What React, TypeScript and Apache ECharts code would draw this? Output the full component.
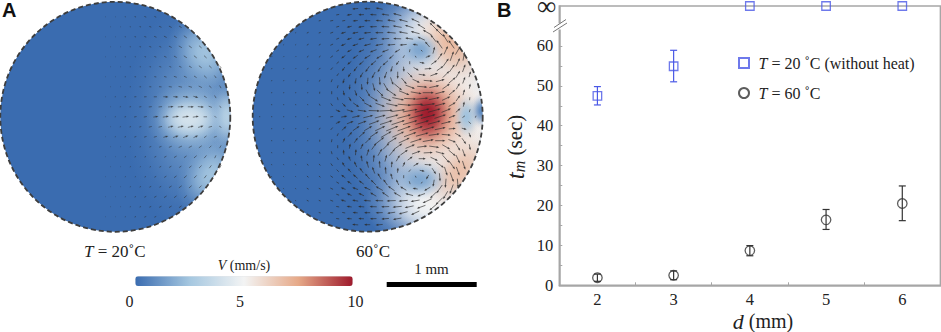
import React, { useEffect, useRef } from "react";
import * as echarts from "echarts";

// ---------- Panel B data ----------
const SERIF = "Liberation Serif";
const dValues = [2, 3, 4, 5, 6];
const INF = 70; // the broken top of the axis stands for infinity
const t20 = [47.5, 54.9, INF, INF, INF];
const t20Low = [45.2, 51, null, null, null];
const t20High = [49.8, 58.9, null, null, null];
const t60 = [1.9, 2.5, 8.7, 16.4, 20.5];
const t60Low = [1, 1.4, 7.4, 14, 16.2];
const t60High = [2.8, 3.6, 9.95, 19, 24.9];
const yLabels = [0, 10, 20, 30, 40, 50, 60, 70];
const yTicks = [0, 5, 10, 15, 20, 25, 30, 35, 40, 45, 50, 55, 60];
const xHalfTicks = [2.5, 3.5, 4.5, 5.5];

// ---------- Panel A colour scale ----------
const rampColors = ["#3a6cb0", "#a5c7e0", "#f3f4f4", "#e6a988", "#9e1a2c"];
const rampTicks = ["0", "5", "10"];

// ---------- Panel A field blobs: x, y, rx, ry, V, tilt ----------
const blobs20 = [
  [80, 0, 70, 118, 1.3, 0],
  [90, -64, 36, 44, 2.4, 0.5],
  [96, 58, 32, 44, 2.4, -0.5],
  [76, 2, 46, 38, 2.9, 0],
  [74, 2, 32, 22, 4, 0],
  [112, 0, 18, 38, 3, 0],
];
const blobs60 = [
  [92, 0, 116, 165, 5, 0],
  [84, 0, 96, 134, 5, 0],
  [70, -85, 66, 48, 5, 0],
  [62, 88, 66, 44, 5, 0],
  [84, -72, 32, 48, 6.9, 0.7],
  [92, 55, 28, 48, 6.7, -0.7],
  [60, -1, 66, 64, 7, 0],
  [60, -3, 42, 46, 8, 0],
  [60, -3, 25, 33, 10, 0],
  [52, -67, 24, 20, 1.6, 0],
  [52, 63, 30, 20, 1.6, 0],
  [99, 0, 14, 24, 2.4, 0],
  [114, -6, 12, 18, 0.8, 0],
];

// ---------- Panel A velocity vectors ----------
const grid20Cols = [-10, 0, 10, 20, 30, 40, 50, 60, 70, 80, 90, 100];
const grid20Rows = [-100, -90, -80, -70, -60, -50, -40, -30, -20, -10, 0, 10, 20, 30, 40, 50, 60, 70, 80, 90, 100];
const angle20 = [
  [5, 8, 12, 16, 20, 24, 0, 0, 0, 0, 0, 0],
  [5, 8, 12, 15, 18, 22, 26, 30, 0, 0, 0, 0],
  [5, 8, 10, 14, 18, 22, 26, 30, 35, 0, 0, 0],
  [3, 6, 10, 14, 18, 22, 26, 30, 35, 40, 0, 0],
  [0, 5, 8, 12, 16, 20, 24, 28, 32, 38, 42, 0],
  [-5, 0, 5, 8, 12, 16, 20, 24, 30, 36, 42, 50],
  [-8, -5, 0, 5, 8, 10, 14, 18, 24, 32, 42, 55],
  [-10, -8, -5, 0, 3, 5, 8, 12, 16, 25, 40, 60],
  [-12, -10, -8, -5, -3, 0, 2, 5, 8, 15, 30, 60],
  [-15, -12, -10, -8, -6, -5, -4, -3, 0, 5, 20, 55],
  [-18, -15, -12, -10, -10, -8, -8, -8, -8, -8, 0, 45],
  [-20, -18, -15, -14, -12, -12, -12, -12, -14, -16, -15, 30],
  [-22, -20, -18, -18, -16, -16, -16, -18, -20, -25, -35, -20],
  [-24, -22, -22, -20, -20, -20, -22, -24, -28, -35, -45, -60],
  [-25, -25, -24, -24, -24, -25, -27, -30, -35, -40, -50, -65],
  [-25, -25, -25, -25, -26, -28, -30, -34, -38, -44, -52, -60],
  [-25, -25, -25, -26, -27, -28, -32, -36, -40, -46, -52, 0],
  [-22, -22, -24, -25, -26, -28, -32, -36, -40, -45, 0, 0],
  [-20, -20, -22, -24, -26, -28, -32, -36, -40, 0, 0, 0],
  [-18, -18, -20, -22, -24, -26, -30, -34, 0, 0, 0, 0],
  [-15, -15, -18, -20, -22, -24, 0, 0, 0, 0, 0, 0],
];
const length20 = [
  [0.5, 0.5, 1, 1.5, 2, 2, 0, 0, 0, 0, 0, 0],
  [0.5, 0.5, 1, 1.5, 2, 2.5, 3, 3, 0, 0, 0, 0],
  [0.5, 0.5, 1, 1.5, 2, 2.5, 3, 3, 3.5, 0, 0, 0],
  [0.5, 0.5, 1, 1.5, 2, 2, 3, 3.5, 3.5, 3.5, 0, 0],
  [0.5, 0.5, 1, 1, 1.5, 2, 2.5, 3, 3.5, 3.5, 3.5, 0],
  [0.5, 0.5, 1, 1, 1.5, 2, 2, 2.5, 3, 3.5, 3.5, 3.5],
  [0.5, 0.5, 1, 1.5, 1.5, 2, 2.5, 3, 3, 3, 3.5, 3],
  [0.5, 0.5, 1, 1.5, 2, 2.5, 3, 3.5, 3.5, 3.5, 3, 3],
  [0.5, 1, 1.5, 2, 2.5, 3, 4, 4, 4.5, 4, 3, 3],
  [0.5, 1, 1.5, 2, 3, 3.5, 4.5, 5, 5, 5, 3.5, 2.5],
  [0.5, 1, 1.5, 2.5, 3, 4, 5, 5.5, 5.5, 5, 3.5, 2.5],
  [0.5, 1, 1.5, 2, 3, 3.5, 4.5, 5, 5, 4.5, 3.5, 2.5],
  [0.5, 1, 1.5, 2, 2.5, 3, 4, 4.5, 4.5, 4, 3, 3],
  [0.5, 0.5, 1, 1.5, 2, 2.5, 3, 3.5, 3.5, 3.5, 3, 3],
  [0.5, 0.5, 1, 1.5, 1.5, 2, 2.5, 3, 3, 3.5, 3.5, 3],
  [0.5, 0.5, 1, 1, 1.5, 2, 2.5, 2.5, 3, 3.5, 3.5, 3.5],
  [0.5, 0.5, 1, 1, 1.5, 2, 2.5, 3, 3.5, 3.5, 3.5, 0],
  [0.5, 0.5, 1, 1.5, 2, 2, 3, 3.5, 3.5, 3.5, 0, 0],
  [0.5, 0.5, 1, 1.5, 2, 2.5, 3, 3, 3.5, 0, 0, 0],
  [0.5, 0.5, 1, 1.5, 2, 2.5, 3, 3, 0, 0, 0, 0],
  [0.5, 0.5, 1, 1.5, 2, 2, 0, 0, 0, 0, 0, 0],
];

const grid60Cols = [-108, -96, -84, -72, -60, -48, -36, -24, -12, 0, 12, 24, 36, 48, 60, 72, 84, 96, 108];
const grid60Rows = [-108, -96, -84, -72, -60, -48, -36, -24, -12, 0, 12, 24, 36, 48, 60, 72, 84, 96, 108];
const angle60 = [
  [0, 0, 0, 0, 0, 0, 0, 0, 175, 180, 190, 0, 0, 0, 0, 0, 0, 0, 0],
  [0, 0, 0, 0, 0, 165, 170, 170, 175, 180, 185, 190, 195, 205, 0, 0, 0, 0, 0],
  [0, 0, 0, 150, 155, 160, 160, 165, 170, 175, 180, 185, 190, 195, 210, 225, 0, 0, 0],
  [0, 0, 140, 145, 150, 150, 155, 155, 160, 165, 170, 175, 175, 190, 230, 235, 235, 0, 0],
  [0, 125, 130, 135, 140, 140, 145, 145, 145, 150, 150, 140, 120, 60, -20, -55, -70, -80, 0],
  [0, 115, 120, 125, 125, 130, 130, 125, 125, 125, 120, 105, 85, 30, -5, -35, -55, -70, 0],
  [0, 105, 110, 110, 115, 115, 110, 105, 100, 95, 85, 70, 50, 25, 5, -15, -40, -70, 0],
  [0, 95, 100, 100, 100, 95, 90, 80, 70, 60, 45, 35, 22, 10, 0, -15, -40, -75, 0],
  [0, 85, 85, 80, 75, 65, 55, 45, 35, 28, 20, 12, 5, -3, -8, -15, -30, -80, 0],
  [0, 0, 0, 0, -3, -5, -8, -10, -12, -14, -15, -15, -15, -15, -15, -18, -22, -35, -70],
  [0, -85, -85, -80, -70, -60, -50, -42, -35, -30, -25, -22, -20, -18, -16, -12, -5, 15, 0],
  [0, -95, -100, -100, -95, -90, -80, -65, -55, -45, -38, -32, -25, -18, -10, 0, 20, 55, 0],
  [0, -105, -110, -110, -115, -110, -105, -95, -85, -72, -60, -50, -35, -20, -3, 15, 40, 70, 0],
  [0, -115, -120, -125, -125, -130, -125, -120, -115, -105, -95, -85, -65, -30, 5, 35, 55, 72, 0],
  [0, -125, -130, -135, -140, -140, -145, -145, -140, -130, -120, -105, -90, -115, 120, 85, 70, 60, 0],
  [0, 0, -140, -145, -150, -155, -155, -160, -160, -155, -150, -145, -150, -170, 150, 125, 110, 0, 0],
  [0, 0, 0, -150, -155, -160, -160, -165, -170, -175, -178, 178, 175, 170, 155, 135, 0, 0, 0],
  [0, 0, 0, 0, 0, -165, -170, -170, -175, 180, 178, 172, 165, 155, 0, 0, 0, 0, 0],
  [0, 0, 0, 0, 0, 0, 0, 0, -175, 180, 175, 0, 0, 0, 0, 0, 0, 0, 0],
];
const length60 = [
  [0, 0, 0, 0, 0, 0, 0, 0, 5, 5, 6, 0, 0, 0, 0, 0, 0, 0, 0],
  [0, 0, 0, 0, 0, 2, 3, 3, 4, 5, 6, 7, 8, 8, 0, 0, 0, 0, 0],
  [0, 0, 0, 1, 2, 2, 3, 4, 5, 6, 7, 8, 8, 8, 9, 9, 0, 0, 0],
  [0, 0, 1, 1, 2, 2, 3, 4, 5, 6, 7, 7, 6, 4, 6, 9, 9, 0, 0],
  [0, 1, 1, 1, 2, 2, 3, 4, 5, 6, 6, 5, 3, 2, 4, 7, 9, 8, 0],
  [0, 1, 1, 1, 2, 2, 3, 4, 5, 6, 6, 5, 4, 5, 6, 7, 8, 7, 0],
  [0, 1, 1, 1, 1, 2, 3, 4, 5, 6, 7, 7, 7, 7, 8, 8, 8, 6, 0],
  [0, 1, 1, 1, 1, 2, 3, 4, 5, 7, 8, 9, 10, 10, 10, 9, 7, 5, 0],
  [0, 1, 1, 1, 1, 2, 3, 4, 6, 8, 9, 11, 12, 13, 13, 10, 7, 4, 0],
  [1, 1, 1, 1, 1, 2, 3, 5, 7, 9, 10, 12, 13, 14, 14, 11, 6, 3, 2],
  [0, 1, 1, 1, 1, 2, 3, 5, 7, 8, 10, 12, 13, 13, 12, 10, 6, 4, 0],
  [0, 1, 1, 1, 1, 2, 3, 4, 5, 7, 9, 10, 11, 11, 10, 9, 7, 6, 0],
  [0, 1, 1, 1, 1, 2, 3, 4, 5, 6, 7, 8, 8, 8, 8, 8, 8, 7, 0],
  [0, 1, 1, 1, 2, 2, 3, 4, 5, 6, 6, 5, 4, 5, 6, 8, 9, 8, 0],
  [0, 1, 1, 1, 2, 2, 3, 4, 5, 6, 6, 5, 3, 2, 4, 7, 9, 0, 0],
  [0, 0, 1, 1, 2, 2, 3, 4, 5, 6, 7, 7, 6, 4, 6, 9, 9, 0, 0],
  [0, 0, 0, 1, 2, 2, 3, 4, 5, 6, 7, 8, 8, 8, 9, 9, 0, 0, 0],
  [0, 0, 0, 0, 0, 2, 3, 3, 4, 5, 6, 7, 8, 8, 0, 0, 0, 0, 0],
  [0, 0, 0, 0, 0, 0, 0, 0, 5, 5, 6, 0, 0, 0, 0, 0, 0, 0, 0],
];

// second, staggered set of vectors in the fast part of the 60 degree disc
const inter60Cols = [-30, -18, -6, 6, 18, 30, 42, 54, 66, 78, 90, 102];
const inter60Rows = [-102, -90, -78, -66, -54, -42, -30, -18, -6, 6, 18, 30, 42, 54, 66, 78, 90, 102];
const interAngle60 = [
  [170, 172, 178, 183, 188, 195, 0, 0, 0, 0, 0, 0],
  [165, 168, 173, 178, 183, 190, 198, 212, 225, 0, 0, 0],
  [158, 162, 167, 172, 177, 182, 188, 205, 232, 238, 0, 0],
  [150, 153, 157, 160, 160, 150, 100, 40, -75, -65, -60, 0],
  [140, 142, 140, 140, 140, 125, 90, 10, -35, -55, -65, 0],
  [125, 122, 120, 118, 110, 90, 45, 8, -20, -45, -60, -75],
  [105, 95, 85, 75, 60, 40, 20, 5, -12, -35, -60, -80],
  [75, 60, 45, 32, 22, 12, 3, -5, -12, -25, -55, -85],
  [25, 18, 8, 2, -3, -8, -10, -13, -15, -22, -40, -75],
  [-25, -22, -20, -20, -18, -18, -16, -16, -15, -14, -10, 40],
  [-65, -50, -42, -35, -30, -25, -20, -15, -8, 5, 30, 70],
  [-90, -80, -65, -55, -45, -35, -22, -8, 8, 30, 58, 80],
  [-120, -110, -100, -85, -75, -60, -35, 0, 25, 48, 65, 0],
  [-135, -130, -125, -110, -95, -85, -50, 12, 57, 72, 70, 0],
  [-150, -148, -145, -135, -125, -115, -107, 146, 100, 95, 85, 0],
  [-160, -158, -155, -150, -145, -150, -165, 160, 135, 120, 0, 0],
  [-170, -172, -175, -178, 178, 175, 168, 160, 140, 0, 0, 0],
  [-172, -176, -178, 178, 175, 170, 0, 0, 0, 0, 0, 0],
];
const interLength60 = [
  [3, 4, 4.5, 5.5, 6.5, 7.5, 0, 0, 0, 0, 0, 0],
  [3, 4, 5, 6, 7, 8, 8, 8, 9, 0, 0, 0],
  [3, 4, 5, 6, 7, 7, 7, 7, 8, 9, 0, 0],
  [3, 4, 5, 6, 6, 5, 3, 2, 6, 8, 9, 0],
  [3, 4, 5, 6, 6, 4, 3, 4, 6, 8, 8, 0],
  [3, 4, 5, 6, 6, 6, 6, 6, 7, 8, 7, 5],
  [3, 4, 5, 7, 8, 9, 9, 9, 9, 8, 6, 4],
  [3, 4, 6, 8, 10, 11, 11, 11, 10, 8, 6, 3],
  [4, 6, 8, 10, 12, 13, 14, 14, 12, 9, 5, 3],
  [4, 6, 8, 10, 12, 13, 14, 13, 12, 9, 5, 3],
  [3, 5, 7, 9, 11, 12, 12, 12, 10, 8, 6, 4],
  [3, 4, 5, 7, 8, 9, 9, 9, 9, 8, 7, 5],
  [3, 4, 5, 6, 6, 6, 5, 6, 7, 9, 8, 0],
  [3, 4, 5, 6, 6, 4, 3, 4, 6, 8, 8, 0],
  [3, 4, 5, 6, 6, 5, 3, 2, 6, 8, 8, 0],
  [3, 4, 5, 6, 7, 7, 7, 7, 8, 8, 0, 0],
  [3, 4, 5, 6, 7, 8, 8, 8, 9, 0, 0, 0],
  [3, 4, 4.5, 5.5, 6.5, 7.5, 0, 0, 0, 0, 0, 0],
];

// ---------- helpers that turn the tables into rows for the library ----------
const vectorRows = (cols: number[], rows: number[], angle: number[][], len: number[][], stagger = 0) => {
  const out: number[][] = [];
  rows.forEach((y, j) =>
    cols.forEach((x, i) => {
      if (len[j][i] > 0) out.push([x + (j % 2 ? stagger : 0), y, angle[j][i], len[j][i]]);
    })
  );
  return out;
};

const rangeRows = (low: (number | null)[], high: (number | null)[]) =>
  dValues.map((d, i) => [d, low[i], high[i]]).filter((r) => r[1] !== null);

const renderBlob = (_p: any, api: any) => {
  const c = api.coord([api.value(0), api.value(1)]);
  const o = api.coord([0, 0]);
  const s = api.size([1, 1]);
  const col = api.visual("color");
  const a = (v: number) => echarts.color.modifyAlpha(col, v);
  return {
    type: "group",
    clipPath: { type: "circle", shape: { cx: o[0], cy: o[1], r: 115 * s[0] } },
    children: [
      {
        type: "circle",
        x: c[0],
        y: c[1],
        scaleX: api.value(2) * s[0],
        scaleY: api.value(3) * s[1],
        rotation: api.value(5),
        shape: { cx: 0, cy: 0, r: 1 },
        style: {
          fill: {
            type: "radial",
            x: 0.5,
            y: 0.5,
            r: 0.5,
            colorStops: [
              { offset: 0, color: a(1) },
              { offset: 0.2, color: a(0.92) },
              { offset: 0.4, color: a(0.68) },
              { offset: 0.6, color: a(0.36) },
              { offset: 0.8, color: a(0.11) },
              { offset: 1, color: a(0) },
            ],
          },
        },
      },
    ],
  };
};

const renderVector = (opacity: number) => (_p: any, api: any) => {
  const c = api.coord([api.value(0), api.value(1)]);
  const th = (api.value(2) * Math.PI) / 180;
  const l = api.value(3);
  const ux = Math.cos(th);
  const uy = Math.sin(th);
  const tip = [c[0] + (ux * l) / 2, c[1] + (uy * l) / 2];
  const tail = [c[0] - (ux * l) / 2, c[1] - (uy * l) / 2];
  const children: any[] = [
    {
      type: "line",
      shape: { x1: tail[0], y1: tail[1], x2: tip[0], y2: tip[1] },
      style: { stroke: "#2b2b2b", lineWidth: 0.9, opacity },
    },
  ];
  if (l >= 4) {
    children.push({
      type: "polygon",
      shape: {
        points: [
          [tip[0] + ux * 1.2, tip[1] + uy * 1.2],
          [tip[0] - ux * 1.6 - uy * 1.1, tip[1] - uy * 1.6 + ux * 1.1],
          [tip[0] - ux * 1.6 + uy * 1.1, tip[1] - uy * 1.6 - ux * 1.1],
        ],
      },
      style: { fill: "#2b2b2b", opacity },
    });
  }
  return { type: "group", children };
};

const renderRange = (color: string) => (_p: any, api: any) => {
  const x = api.value(0);
  const lo = api.coord([x, api.value(1)]);
  const hi = api.coord([x, api.value(2)]);
  const st = { stroke: color, lineWidth: 1.2 };
  return {
    type: "group",
    children: [
      { type: "line", shape: { x1: lo[0], y1: lo[1], x2: hi[0], y2: hi[1] }, style: st },
      { type: "line", shape: { x1: lo[0] - 3.5, y1: lo[1], x2: lo[0] + 3.5, y2: lo[1] }, style: st },
      { type: "line", shape: { x1: hi[0] - 3.5, y1: hi[1], x2: hi[0] + 3.5, y2: hi[1] }, style: st },
    ],
  };
};

const BLUE = "#4a58e6";
const DARK = "#333333";
const AXIS = "#a6a6a6";
const INK = "#222222";
const NAME20 = "T = 20 °C (without heat)";
const NAME60 = "T = 60 °C";

const serifText = (x: number, y: number, text: string, size: number, extra: any = {}) => ({
  type: "text",
  x,
  y,
  z: 20,
  style: {
    text,
    fill: INK,
    font: `${size}px "${SERIF}"`,
    textAlign: "center",
    textVerticalAlign: "middle",
    ...extra,
  },
});

const hiddenAxis = (gridIndex: number, inverse = false) => ({
  type: "value",
  gridIndex,
  min: -115,
  max: 115,
  show: false,
  inverse,
  splitLine: { show: false },
});

const option: any = {
  animation: false,
  backgroundColor: "#ffffff",
  tooltip: { show: false },
  grid: [
    { left: 559.3, top: 6, right: 0.6, height: 279.3, show: true, borderColor: AXIS, borderWidth: 1.5, backgroundColor: "transparent", outerBoundsMode: "none" },
    { left: 0.3, top: 1.8, width: 230, height: 230, outerBoundsMode: "none" },
    { left: 252.7, top: 1.7, width: 230, height: 230, outerBoundsMode: "none" },
  ],
  xAxis: [
    {
      type: "value",
      gridIndex: 0,
      min: 1.5,
      max: 6.5,
      interval: 0.5,
      splitLine: { show: false },
      axisLine: { lineStyle: { color: AXIS, width: 1.5 } },
      axisTick: { inside: true, length: 3, customValues: xHalfTicks, lineStyle: { color: AXIS } },
      axisLabel: { customValues: dValues, margin: 6, color: INK, fontFamily: SERIF, fontSize: 16.5 },
    },
    hiddenAxis(1),
    hiddenAxis(2),
  ],
  yAxis: [
    {
      type: "value",
      gridIndex: 0,
      min: 0,
      max: INF,
      interval: 10,
      splitLine: { show: false },
      axisLine: { lineStyle: { color: AXIS, width: 1.5 } },
      axisTick: { inside: true, length: 3, customValues: yTicks, lineStyle: { color: AXIS } },
      axisLabel: {
        customValues: yLabels,
        margin: 6,
        color: INK,
        fontFamily: SERIF,
        fontSize: 16.5,
        formatter: (v: number) => (v === INF ? "{inf|∞}" : String(v)),
        rich: { inf: { fontFamily: SERIF, fontSize: 27, lineHeight: 12, color: INK, padding: [0, -3, 0, 0] } },
      },
    },
    hiddenAxis(1, true),
    hiddenAxis(2, true),
  ],
  visualMap: {
    type: "continuous",
    min: 0,
    max: 10,
    dimension: 4,
    seriesIndex: [4, 6],
    orient: "horizontal",
    left: 135.3,
    top: 276.3,
    itemWidth: 9.7,
    itemHeight: 217.4,
    text: null,
    showLabel: false,
    calculable: false,
    hoverLink: false,
    align: "auto",
    padding: 0,
    inRange: { color: rampColors },
    textStyle: { color: "transparent", fontSize: 1 },
  },
  legend: {
    left: 738,
    top: 55,
    orient: "vertical",
    itemWidth: 10,
    itemHeight: 10,
    itemGap: 14,
    padding: 0,
    selectedMode: false,
    data: [NAME20, NAME60],
    formatter: (n: string) =>
      n === NAME20 ? "{i|T} = 20 ˚C (without heat)" : "{i|T} = 60 ˚C",
    textStyle: {
      color: INK,
      fontFamily: SERIF,
      fontSize: 16,
      padding: [0, 0, 0, 4.5],
      rich: {
        i: { fontFamily: SERIF, fontSize: 16, fontStyle: "italic", color: INK },
      },
    },
  },
  series: [
    {
      type: "custom",
      xAxisIndex: 0,
      yAxisIndex: 0,
      clip: false,
      silent: true,
      renderItem: renderRange(BLUE),
      encode: { x: 0, y: [1, 2] },
      data: rangeRows(t20Low, t20High),
    },
    {
      type: "custom",
      xAxisIndex: 0,
      yAxisIndex: 0,
      clip: false,
      silent: true,
      renderItem: renderRange(DARK),
      encode: { x: 0, y: [1, 2] },
      data: rangeRows(t60Low, t60High),
    },
    {
      name: NAME20,
      type: "scatter",
      xAxisIndex: 0,
      yAxisIndex: 0,
      clip: false,
      symbol: "rect",
      symbolSize: 8.5,
      itemStyle: { color: "rgba(255,255,255,0)", borderColor: BLUE, borderWidth: 1.3 },
      data: dValues.map((d, i) => [d, t20[i]]),
    },
    {
      name: NAME60,
      type: "scatter",
      xAxisIndex: 0,
      yAxisIndex: 0,
      clip: false,
      symbol: "circle",
      symbolSize: 9.5,
      itemStyle: { color: "rgba(255,255,255,0)", borderColor: DARK, borderWidth: 1.3 },
      data: dValues.map((d, i) => [d, t60[i]]),
    },
    {
      type: "custom",
      xAxisIndex: 1,
      yAxisIndex: 1,
      silent: true,
      clip: false,
      renderItem: renderBlob,
      encode: { x: 0, y: 1 },
      data: blobs20,
    },
    {
      type: "custom",
      xAxisIndex: 1,
      yAxisIndex: 1,
      silent: true,
      clip: false,
      z: 3,
      renderItem: renderVector(0.6),
      encode: { x: 0, y: 1 },
      data: vectorRows(grid20Cols, grid20Rows, angle20, length20, 5),
    },
    {
      type: "custom",
      xAxisIndex: 2,
      yAxisIndex: 2,
      silent: true,
      clip: false,
      renderItem: renderBlob,
      encode: { x: 0, y: 1 },
      data: blobs60,
    },
    {
      type: "custom",
      xAxisIndex: 2,
      yAxisIndex: 2,
      silent: true,
      clip: false,
      z: 3,
      renderItem: renderVector(0.72),
      encode: { x: 0, y: 1 },
      data: vectorRows(grid60Cols, grid60Rows, angle60, length60).concat(
        vectorRows(inter60Cols, inter60Rows, interAngle60, interLength60)
      ),
    },
  ],
  graphic: [
    { type: "circle", z: 0, shape: { cx: 115.3, cy: 116.8, r: 115 }, style: { fill: rampColors[0] } },
    { type: "circle", z: 0, shape: { cx: 367.7, cy: 116.7, r: 115 }, style: { fill: rampColors[0] } },
    { type: "circle", z: 10, shape: { cx: 115.3, cy: 116.8, r: 115 }, style: { fill: "none", stroke: "#3d3d3d", lineWidth: 1.8, lineDash: [5, 3] } },
    { type: "circle", z: 10, shape: { cx: 367.7, cy: 116.7, r: 115 }, style: { fill: "none", stroke: "#3d3d3d", lineWidth: 1.8, lineDash: [5, 3] } },
    // panel letters
    { type: "text", x: 2, y: 10, z: 20, style: { text: "A", fill: "#111", font: 'bold 20px "Liberation Sans"', textVerticalAlign: "middle" } },
    { type: "text", x: 497, y: 10, z: 20, style: { text: "B", fill: "#111", font: 'bold 20px "Liberation Sans"', textVerticalAlign: "middle" } },
    // panel A captions
    {
      type: "text",
      x: 84,
      y: 251,
      z: 20,
      style: {
        text: "{i|T} = 20˚C",
        rich: { i: { font: `italic 17px "${SERIF}"`, fill: INK } },
        fill: INK,
        font: `17px "${SERIF}"`,
        textVerticalAlign: "middle",
      },
    },
    serifText(373, 251, "60˚C", 17),
    {
      type: "text",
      x: 244,
      y: 265,
      z: 20,
      style: {
        text: "{i|V} (mm/s)",
        rich: { i: { font: `italic 14px "${SERIF}"`, fill: INK } },
        fill: INK,
        font: `14px "${SERIF}"`,
        textAlign: "center",
        textVerticalAlign: "middle",
      },
    },
    serifText(129.5, 301, rampTicks[0], 16),
    serifText(240, 301, rampTicks[1], 16),
    serifText(355.5, 301, rampTicks[2], 16),
    serifText(431.5, 269, "1 mm", 15),
    { type: "rect", z: 20, shape: { x: 386.7, y: 282, width: 90, height: 5 }, style: { fill: "#000" } },
    // axis break
    { type: "rect", z: 15, shape: { x: 555, y: 23.5, width: 8, height: 6 }, style: { fill: "#fff" } },
    { type: "line", z: 16, shape: { x1: 554, y1: 27.5, x2: 566, y2: 19.5 }, style: { stroke: "#777", lineWidth: 1 } },
    { type: "line", z: 16, shape: { x1: 553, y1: 32, x2: 567, y2: 23 }, style: { stroke: "#777", lineWidth: 1 } },
    // panel B axis titles
    {
      type: "text",
      x: 763,
      y: 321,
      z: 20,
      style: {
        text: "{i|d} (mm)",
        rich: { i: { font: `italic 22px "${SERIF}"`, fill: INK } },
        fill: INK,
        font: `20px "${SERIF}"`,
        textAlign: "center",
        textVerticalAlign: "middle",
      },
    },
    {
      type: "text",
      x: 515,
      y: 147,
      z: 20,
      rotation: Math.PI / 2,
      style: {
        text: "{i|t}{m|m} {s|(sec)}",
        rich: {
          i: { font: `italic 25px "${SERIF}"`, fill: INK },
          m: { font: `italic 16px "${SERIF}"`, fill: INK, verticalAlign: "bottom", padding: [9, 0, 0, 0] },
          s: { font: `21px "${SERIF}"`, fill: INK },
        },
        fill: INK,
        font: `21px "${SERIF}"`,
        textAlign: "center",
        textVerticalAlign: "middle",
      },
    },
  ],
};

export default function App() {
  const ref = useRef<HTMLDivElement>(null);
  useEffect(() => {
    document.body.style.margin = "0";
    const chart = echarts.init(ref.current!, null, { renderer: "svg" });
    chart.setOption(option);
    return () => chart.dispose();
  }, []);
  return <div ref={ref} style={{ width: 941, height: 332 }} />;
}
